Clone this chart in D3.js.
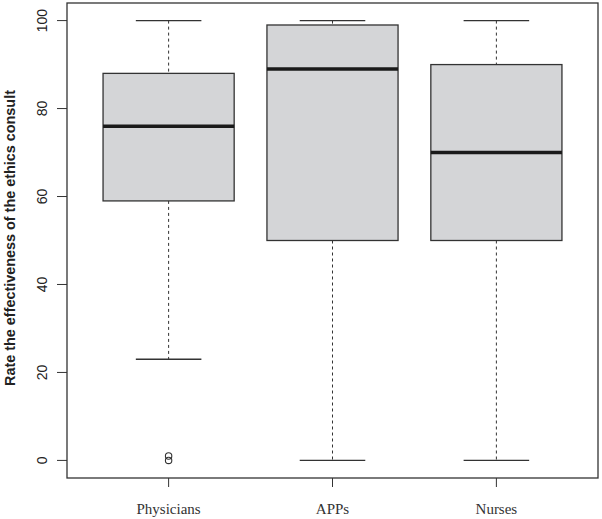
<!DOCTYPE html>
<html lang="en">
<head>
    <meta charset="UTF-8">
    <title>Ethics consult boxplot</title>
    <script src="https://d3js.org/d3.v7.min.js"></script>
    <style>
        body { margin: 0; background: white; }
        svg { display: block; }
    </style>
</head>
<body>
    <svg id="chart"></svg>
    <script>
        // Box statistics
        const groups = ['Physicians', 'APPs', 'Nurses'];
        const whiskerLow = [23, 0, 0];
        const q1 = [59, 50, 50];
        const median = [76, 89, 70];
        const q3 = [88, 99, 90];
        const whiskerHigh = [100, 100, 100];
        const outliers = [[0, 1], [], []];
        const yTicks = [0, 20, 40, 60, 80, 100];

        const width = 602, height = 519;
        const margin = { left: 67, right: 4, top: 3, bottom: 41 };

        const svg = d3.select('#chart')
            .attr('width', width)
            .attr('height', height);

        // R-style 4% padding on both axes
        const x = d3.scaleLinear()
            .domain([0.38, 3.62])
            .range([margin.left, width - margin.right]);
        const y = d3.scaleLinear()
            .domain([-4, 104])
            .range([height - margin.bottom, margin.top]);

        const boxHalf = (x(1.4) - x(1));
        const capHalf = boxHalf / 2;
        const lineColor = '#333';

        groups.forEach((name, i) => {
            const cx = x(i + 1);
            const g = svg.append('g');

            // whiskers (dashed)
            g.append('line')
                .attr('x1', cx).attr('x2', cx)
                .attr('y1', y(whiskerHigh[i])).attr('y2', y(q3[i]))
                .attr('stroke', lineColor).attr('stroke-dasharray', '3,3');
            g.append('line')
                .attr('x1', cx).attr('x2', cx)
                .attr('y1', y(q1[i])).attr('y2', y(whiskerLow[i]))
                .attr('stroke', lineColor).attr('stroke-dasharray', '3,3');

            // caps
            [whiskerHigh[i], whiskerLow[i]].forEach(v => {
                g.append('line')
                    .attr('x1', cx - capHalf).attr('x2', cx + capHalf)
                    .attr('y1', y(v)).attr('y2', y(v))
                    .attr('stroke', lineColor).attr('stroke-width', 1.3);
            });

            // box
            g.append('rect')
                .attr('x', cx - boxHalf)
                .attr('y', y(q3[i]))
                .attr('width', boxHalf * 2)
                .attr('height', y(q1[i]) - y(q3[i]))
                .attr('fill', '#d4d5d7')
                .attr('stroke', lineColor)
                .attr('stroke-width', 1.3);

            // median
            g.append('line')
                .attr('x1', cx - boxHalf).attr('x2', cx + boxHalf)
                .attr('y1', y(median[i])).attr('y2', y(median[i]))
                .attr('stroke', '#1a1a1a').attr('stroke-width', 3.5);

            // outliers
            outliers[i].forEach(v => {
                g.append('circle')
                    .attr('cx', cx).attr('cy', y(v))
                    .attr('r', 3.2)
                    .attr('fill', 'none')
                    .attr('stroke', lineColor)
                    .attr('stroke-width', 1.1);
            });
        });

        // frame
        svg.append('rect')
            .attr('x', margin.left)
            .attr('y', margin.top)
            .attr('width', width - margin.left - margin.right)
            .attr('height', height - margin.top - margin.bottom)
            .attr('fill', 'none')
            .attr('stroke', lineColor)
            .attr('stroke-width', 1.3);

        // y axis ticks + rotated labels
        yTicks.forEach(t => {
            svg.append('line')
                .attr('x1', margin.left - 10).attr('x2', margin.left)
                .attr('y1', y(t)).attr('y2', y(t))
                .attr('stroke', lineColor);
            svg.append('text')
                .attr('transform', `translate(47,${y(t)}) rotate(-90)`)
                .attr('text-anchor', 'middle')
                .attr('font-family', 'Liberation Sans, Arial, sans-serif')
                .attr('font-size', 14)
                .attr('fill', '#222')
                .text(t);
        });

        // x axis ticks + labels
        groups.forEach((name, i) => {
            const cx = x(i + 1);
            svg.append('line')
                .attr('x1', cx).attr('x2', cx)
                .attr('y1', y(-4)).attr('y2', y(-4) + 9)
                .attr('stroke', lineColor);
            svg.append('text')
                .attr('x', cx)
                .attr('y', 514)
                .attr('text-anchor', 'middle')
                .attr('font-family', 'Liberation Serif, Times New Roman, serif')
                .attr('font-size', 15)
                .attr('fill', '#333')
                .text(name);
        });

        // y axis title
        svg.append('text')
            .attr('transform', `translate(15,238) rotate(-90)`)
            .attr('text-anchor', 'middle')
            .attr('font-family', 'Liberation Sans, Arial, sans-serif')
            .attr('font-size', 14.4)
            .attr('font-weight', 'bold')
            .attr('fill', '#222')
            .text('Rate the effectiveness of the ethics consult');
    </script>
</body>
</html>
